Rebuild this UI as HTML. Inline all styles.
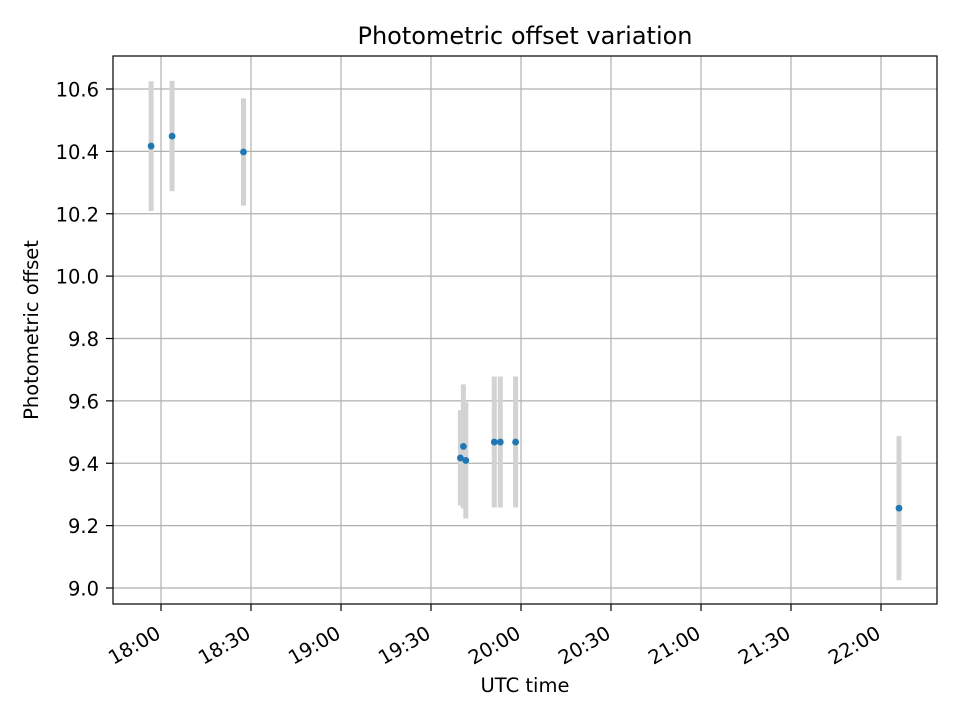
<!DOCTYPE html>
<html><head><meta charset="utf-8"><style>body{margin:0;background:#fff}svg{display:block;font-family:"DejaVu Sans","Liberation Sans",sans-serif}</style></head>
<body>
<svg id="chart" width="960" height="720" xmlns="http://www.w3.org/2000/svg">
<rect width="960" height="720" fill="#fff"/>
<g id="grid"></g>
<g id="marks"></g>
<rect x="113" y="56" width="824" height="548" fill="none" stroke="#000" stroke-width="1.2"/>
<g id="axes"></g>
<text x="525" y="44" text-anchor="middle" font-size="24">Photometric offset variation</text>
<text x="525" y="692" text-anchor="middle" font-size="19.5">UTC time</text>
<text x="0" y="0" transform="translate(38,330) rotate(-90)" text-anchor="middle" font-size="19.5">Photometric offset</text>
</svg>
<script>
// minutes after 18:00 UTC
const times = [-3.3, 3.7, 27.5, 99.8, 100.8, 101.6, 111.1, 113.1, 118.2, 246];
const offsets = [10.417, 10.449, 10.398, 9.417, 9.454, 9.409, 9.468, 9.468, 9.468, 9.256];
const errors = [0.208, 0.177, 0.172, 0.153, 0.199, 0.186, 0.21, 0.21, 0.21, 0.231];
const xTicks = [0, 30, 60, 90, 120, 150, 180, 210, 240];
const xTickLabels = ["18:00","18:30","19:00","19:30","20:00","20:30","21:00","21:30","22:00"];
const yTicks = [9.0, 9.2, 9.4, 9.6, 9.8, 10.0, 10.2, 10.4, 10.6];

const NS = "http://www.w3.org/2000/svg";
const X = m => 161 + m * 3;
const Y = v => 588 - (v - 9) * (499 / 1.6);
function mk(tag, attrs, parent) {
  const e = document.createElementNS(NS, tag);
  for (const k in attrs) e.setAttribute(k, attrs[k]);
  parent.appendChild(e);
  return e;
}
const grid = document.getElementById('grid');
const axes = document.getElementById('axes');
const marks = document.getElementById('marks');

xTicks.forEach((t, i) => {
  const x = X(t);
  const g = mk('line', {x1: x, x2: x, y1: 56, y2: 604, stroke: '#b0b0b0', 'stroke-width': 1.2}, grid);
  
  
  const tk = mk('line', {x1: x, x2: x, y1: 604, y2: 611, stroke: '#000', 'stroke-width': 1.2}, axes);
  
  
  const lb = mk('text', {x: 0, y: 0, 'font-size': 19.5, 'text-anchor': 'end', transform: `translate(${x + 1},${637}) rotate(-30)`}, axes);
  lb.textContent = xTickLabels[i];
  
  
});
yTicks.forEach(v => {
  const y = Y(v);
  const g = mk('line', {x1: 113, x2: 937, y1: y, y2: y, stroke: '#b0b0b0', 'stroke-width': 1.2}, grid);
  
  
  const tk = mk('line', {x1: 106, x2: 113, y1: y, y2: y, stroke: '#000', 'stroke-width': 1.2}, axes);
  
  
  const lb = mk('text', {x: 99, y: y + 7.5, 'font-size': 19.5, 'text-anchor': 'end'}, axes);
  lb.textContent = v.toFixed(1);
  
  
});
times.forEach((t, i) => {
  const x = X(t);
  const eb = mk('line', {x1: x, x2: x, y1: Y(offsets[i] + errors[i]), y2: Y(offsets[i] - errors[i]), stroke: '#d3d3d3', 'stroke-width': 5}, marks);
  
  
});
times.forEach((t, i) => {
  const p = mk('circle', {cx: X(t), cy: Y(offsets[i]), r: 3.4, fill: '#1f77b4'}, marks);
  
  
});
</script>
</body></html>
